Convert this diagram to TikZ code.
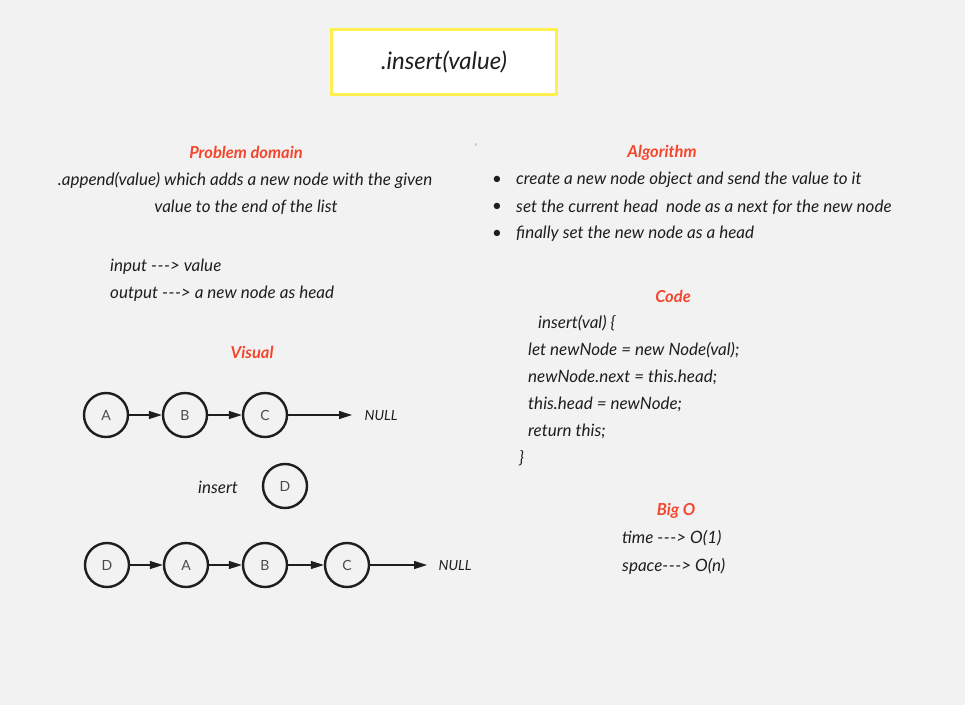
\documentclass[tikz,border=0pt]{standalone}
\usepackage{fontspec}
\setmainfont{Lato}
\usepackage{xcolor}
\usepackage{tikz}
\usetikzlibrary{arrows.meta}

\definecolor{bgrey}{RGB}{242,242,242}
\definecolor{hred}{RGB}{244,70,45}
\definecolor{ink}{RGB}{30,30,30}
\definecolor{ylw}{RGB}{255,240,80}
\newcommand{\arw}{{-}\kern0.5pt{-}\kern0.5pt{-}>}

\begin{document}
\begin{tikzpicture}[
  x=1pt,y=-1pt,
  txt/.style={text=ink,font=\fontsize{17}{20}\selectfont\itshape,inner sep=0pt},
  head/.style={text=hred,font=\fontsize{16.5}{18}\selectfont\bfseries\itshape,inner sep=0pt},
  item/.style={txt,anchor=west},
  lnode/.style={draw=ink,circle,line width=2.4pt,minimum size=44pt,inner sep=0pt,
    font=\fontsize{14}{16}\selectfont,text=ink!80},
  link/.style={->,draw=ink,line width=1.2pt},
  >={Triangle[length=13pt,width=8pt]}]
  % page
  \fill[bgrey] (0,0) rectangle (965,705);
  \useasboundingbox (0,0) rectangle (965,705);
  % title
  \node[draw=ylw,fill=white,line width=2.5pt,minimum width=225pt,minimum height=65pt,
    txt,font=\fontsize{24}{28}\selectfont\itshape] (title) at (444,62) {.insert(value)};
  % problem domain
  \node[head] (pd) at (246,152) {Problem domain};
  \node[txt] (pd1) at (245,180) {.append(value) which adds a new node with the given};
  \node[txt] (pd2) at (246,207) {value to the end of the list};
  \node[item] (inp) at (110,267) {input \arw{} value};
  \node[item] (outp) at (110,294) {output \arw{} a new node as head};
  \node[text=hred,font=\small] (tick) at (476,147) {`};
  % algorithm
  \node[head] (alg) at (662,153) {Algorithm};
  \foreach \t [count=\i] in {create a new node object and send the value to it,
      set the current head\ \ node as a next for the new node,
      finally set the new node as a head}{
    \node[txt] (bul\i) at (497,153+27*\i) {\textbullet};
    \node[item] (alg\i) at (516,153+27*\i) {\t};
  }
  % code
  \node[head] (code) at (673,296) {Code};
  \node[item] (c0) at (538,323) {insert(val) \{};
  \node[item] (c1) at (528,350) {let newNode = new Node(val);};
  \node[item] (c2) at (528,377) {newNode.next = this.head;};
  \node[item] (c3) at (528,404) {this.head = newNode;};
  \node[item] (c4) at (528,431) {return this;};
  \node[item] (c5) at (519,458) {\}};
  % big o
  \node[head] (bigo) at (676,511) {Big O};
  \node[item] (time) at (622,538) {time \arw{} O(1)};
  \node[item] (space) at (622,566) {space\arw{} O(n)};
  % visual
  \node[head] (vis) at (252,352) {Visual};
  \node[lnode] (a1) at (106,415) {A};
  \node[lnode] (b1) at (185,415) {B};
  \node[lnode] (c1n) at (265,415) {C};
  \node[txt,font=\fontsize{14}{16}\selectfont\itshape] (null1) at (381,416) {NULL};
  \coordinate (e1) at (352,415);
  \draw[link] (a1) -- (b1);
  \draw[link] (b1) -- (c1n);
  \draw[link] (c1n) -- (e1);
  \node[txt] (ins) at (218,487) {insert};
  \node[lnode] (d0) at (285,486) {D};
  \node[lnode] (d2) at (107,565) {D};
  \node[lnode] (a2) at (186,565) {A};
  \node[lnode] (b2) at (265,565) {B};
  \node[lnode] (c2n) at (347,565) {C};
  \node[txt,font=\fontsize{14}{16}\selectfont\itshape] (null2) at (455,566) {NULL};
  \coordinate (e2) at (427,565);
  \draw[link] (d2) -- (a2);
  \draw[link] (a2) -- (b2);
  \draw[link] (b2) -- (c2n);
  \draw[link] (c2n) -- (e2);
\end{tikzpicture}
\end{document}
